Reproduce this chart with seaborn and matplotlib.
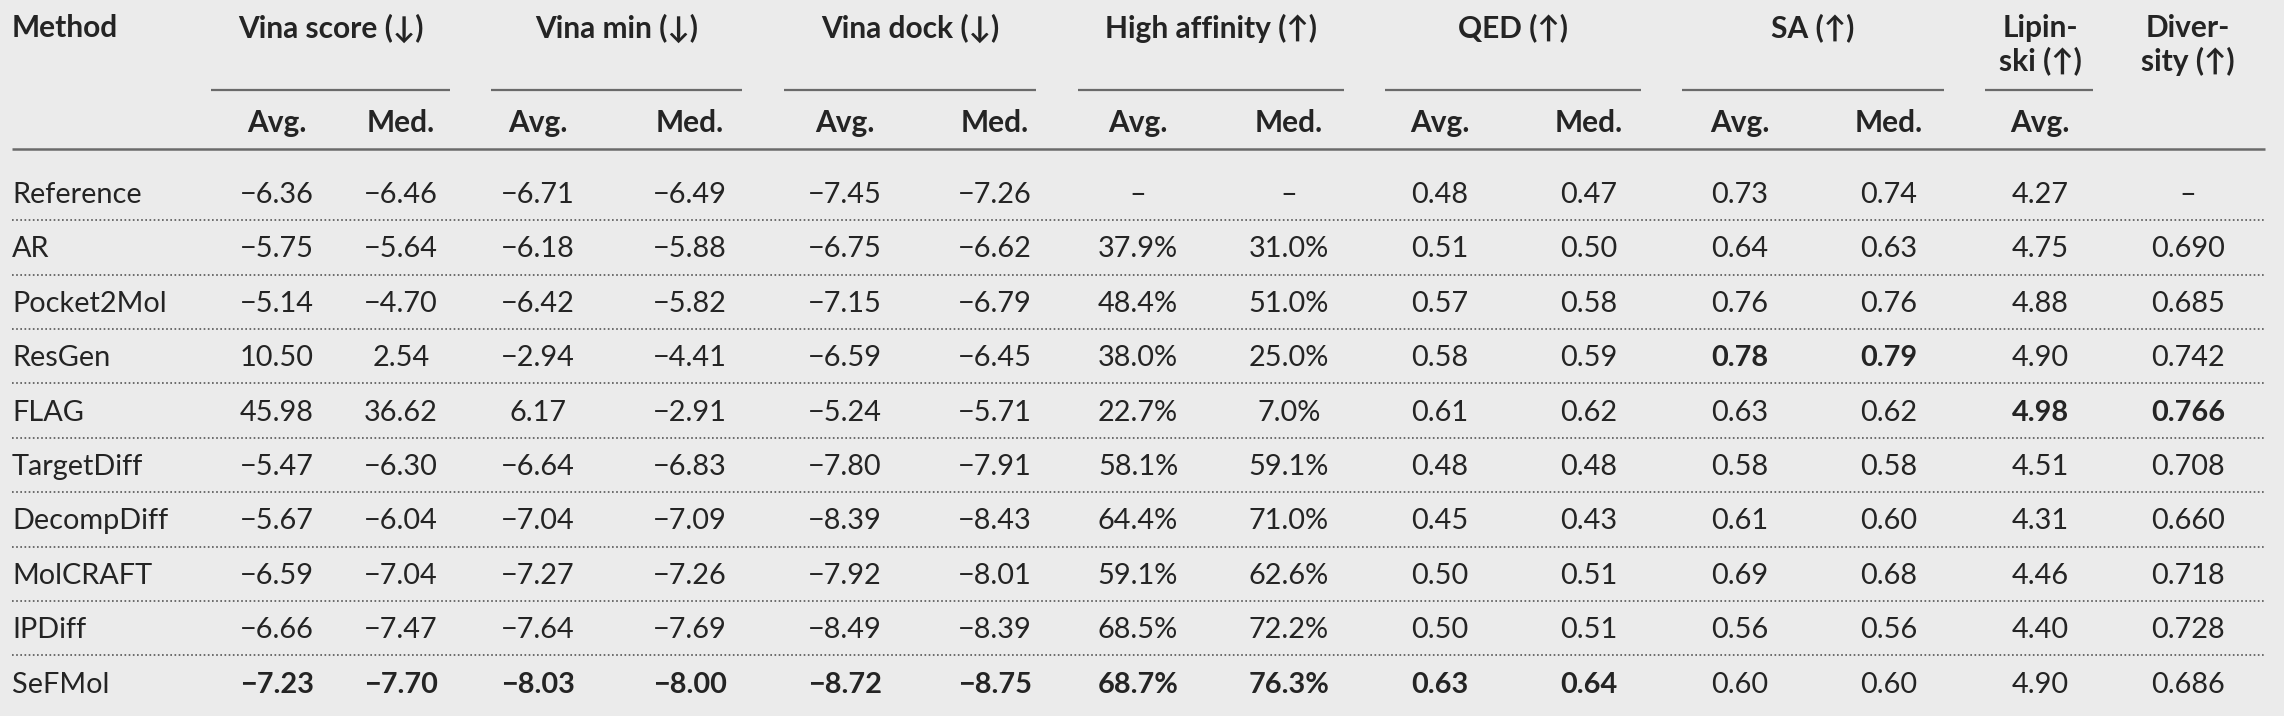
import matplotlib
matplotlib.use("Agg")
import matplotlib.pyplot as plt
import seaborn as sns

# ---- data ----
methods = ["Reference", "AR", "Pocket2Mol", "ResGen", "FLAG", "TargetDiff",
           "DecompDiff", "MolCRAFT", "IPDiff", "SeFMol"]

vina_score_avg = [-6.36, -5.75, -5.14, 10.50, 45.98, -5.47, -5.67, -6.59, -6.66, -7.23]
vina_score_med = [-6.46, -5.64, -4.70, 2.54, 36.62, -6.30, -6.04, -7.04, -7.47, -7.70]
vina_min_avg = [-6.71, -6.18, -6.42, -2.94, 6.17, -6.64, -7.04, -7.27, -7.64, -8.03]
vina_min_med = [-6.49, -5.88, -5.82, -4.41, -2.91, -6.83, -7.09, -7.26, -7.69, -8.00]
vina_dock_avg = [-7.45, -6.75, -7.15, -6.59, -5.24, -7.80, -8.39, -7.92, -8.49, -8.72]
vina_dock_med = [-7.26, -6.62, -6.79, -6.45, -5.71, -7.91, -8.43, -8.01, -8.39, -8.75]
high_aff_avg = [None, 37.9, 48.4, 38.0, 22.7, 58.1, 64.4, 59.1, 68.5, 68.7]
high_aff_med = [None, 31.0, 51.0, 25.0, 7.0, 59.1, 71.0, 62.6, 72.2, 76.3]
qed_avg = [0.48, 0.51, 0.57, 0.58, 0.61, 0.48, 0.45, 0.50, 0.50, 0.63]
qed_med = [0.47, 0.50, 0.58, 0.59, 0.62, 0.48, 0.43, 0.51, 0.51, 0.64]
sa_avg = [0.73, 0.64, 0.76, 0.78, 0.63, 0.58, 0.61, 0.69, 0.56, 0.60]
sa_med = [0.74, 0.63, 0.76, 0.79, 0.62, 0.58, 0.60, 0.68, 0.56, 0.60]
lipinski_avg = [4.27, 4.75, 4.88, 4.90, 4.98, 4.51, 4.31, 4.46, 4.40, 4.90]
diversity = [None, 0.690, 0.685, 0.742, 0.766, 0.708, 0.660, 0.718, 0.728, 0.686]

group_labels = ["Vina score (\u2193)", "Vina min (\u2193)", "Vina dock (\u2193)",
                "High affinity (\u2191)", "QED (\u2191)", "SA (\u2191)"]
sub_labels = ["Avg.", "Med."]

# bold entries: column index -> methods
best = {
    0: ["SeFMol"], 1: ["SeFMol"], 2: ["SeFMol"], 3: ["SeFMol"],
    4: ["SeFMol"], 5: ["SeFMol"], 6: ["SeFMol"], 7: ["SeFMol"],
    8: ["SeFMol"], 9: ["SeFMol"], 10: ["ResGen"], 11: ["ResGen"],
    12: ["FLAG"], 13: ["FLAG"],
}

columns = [
    (vina_score_avg, "{:.2f}"), (vina_score_med, "{:.2f}"),
    (vina_min_avg, "{:.2f}"), (vina_min_med, "{:.2f}"),
    (vina_dock_avg, "{:.2f}"), (vina_dock_med, "{:.2f}"),
    (high_aff_avg, "{:.1f}%"), (high_aff_med, "{:.1f}%"),
    (qed_avg, "{:.2f}"), (qed_med, "{:.2f}"),
    (sa_avg, "{:.2f}"), (sa_med, "{:.2f}"),
    (lipinski_avg, "{:.2f}"), (diversity, "{:.3f}"),
]


def fmt(v, f):
    if v is None:
        return "\u2013"
    s = f.format(v)
    return s.replace("-", "\u2212")


# ---- layout (pixels) ----
W, H = 2284, 716
col_x = [277, 401, 538, 690, 845, 995, 1138, 1289, 1440, 1589, 1740, 1889, 2040, 2188]
group_spans = [(211, 450), (491, 742), (784, 1036), (1078, 1344),
               (1385, 1641), (1682, 1944), (1985, 2093)]
y_head, y_gline, y_sub, y_rule = 28, 90, 123, 149
row_y0, row_h = 195, 54.4

txt = "#242424"
bg = "#ebebeb"
fs = 20.8
fs_head = 21.5

sns.set_theme(style="white", rc={"axes.facecolor": bg, "figure.facecolor": bg})
plt.rcParams["font.family"] = ["Lato", "DejaVu Sans"]

fig = plt.figure(figsize=(W / 100, H / 100), dpi=100)
ax = fig.add_axes([0, 0, 1, 1])
ax.set_xlim(0, W)
ax.set_ylim(H, 0)
ax.axis("off")

# header
ax.text(12, y_head, "Method", ha="left", va="center", fontsize=fs_head,
        fontweight="bold", color=txt)
for lab, (x0, x1) in zip(group_labels, group_spans[:6]):
    ax.text((x0 + x1) / 2, y_head, lab, ha="center", va="center",
            fontsize=fs_head, fontweight="bold", color=txt)
for j, (top, bottom) in zip([12, 13], [("Lipin-", "ski (\u2191)"),
                                        ("Diver-", "sity (\u2191)")]):
    ax.text(col_x[j], y_head, top, ha="center", va="center",
            fontsize=fs_head, fontweight="bold", color=txt)
    ax.text(col_x[j], y_head + 33, bottom, ha="center", va="center",
            fontsize=fs_head, fontweight="bold", color=txt)

for x0, x1 in group_spans:
    ax.hlines(y_gline, x0, x1, color="#6a6a6a", lw=1.6)

for j in range(13):
    ax.text(col_x[j], y_sub, sub_labels[j % 2], ha="center", va="center",
            fontsize=fs_head, fontweight="bold", color=txt)

ax.hlines(y_rule, 12, 2265, color="#6a6a6a", lw=1.8)

# body
for i, m in enumerate(methods):
    y = row_y0 + i * row_h
    ax.text(12, y, m, ha="left", va="center", fontsize=fs, color=txt)
    for j, (vals, f) in enumerate(columns):
        bold = m in best.get(j, [])
        ax.text(col_x[j], y, fmt(vals[i], f), ha="center", va="center",
                fontsize=fs, color=txt, fontweight="bold" if bold else "normal")
    if i < len(methods) - 1:
        ax.hlines(y - 2 + row_h / 2, 12, 2265, color="#555555", lw=1.2,
                  linestyles=(0, (1, 1.5)))

fig.savefig("out.png", dpi=100, facecolor=bg)
